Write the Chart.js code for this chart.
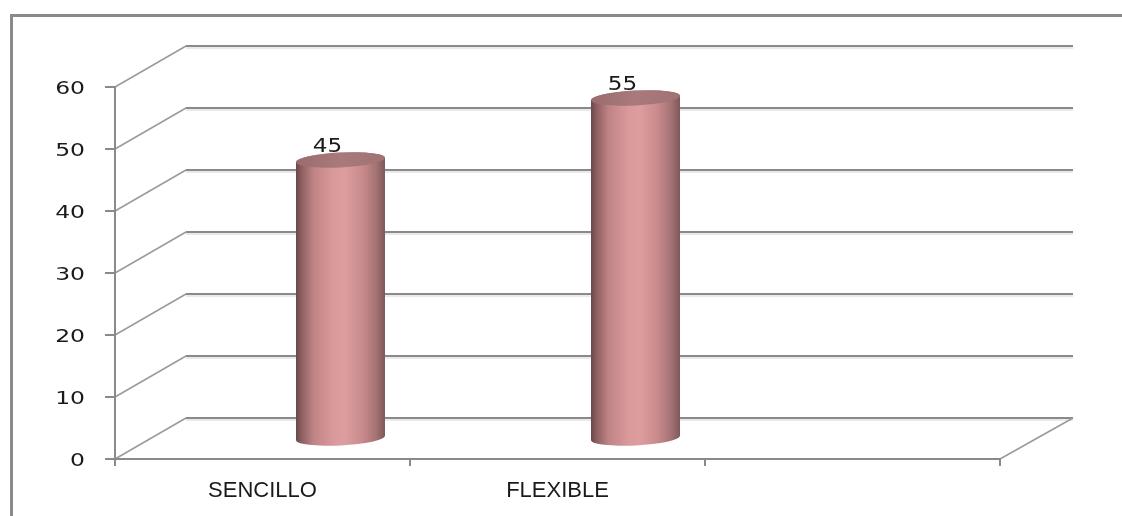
<!DOCTYPE html>
<html>
<head>
<meta charset="utf-8">
<script src="https://cdn.jsdelivr.net/npm/chart.js@4.4.1/dist/chart.umd.min.js"></script>
<style>
  html, body { margin: 0; padding: 0; background: #fff; overflow: hidden; }
  #wrap { width: 1122px; height: 516px; overflow: hidden; }
  canvas { display: block; }
</style>
</head>
<body>
<div id="wrap"><canvas id="chart" width="1122" height="516"></canvas></div>
<script>
const categories = ['SENCILLO', 'FLEXIBLE', ''];
const values = [45, 55, null];
const yMin = 0;
const yMax = 60;
const yStep = 10;

// depth of the back wall and where the cylinders sit between front and back
const DEPTH_X = 71, DEPTH_Y = -41;
const BAR_X = 78, BAR_Y = -20;
const LINE = '#8a8a8a';
const TEXT = '#1a1a1a';

// draw text a little wider than the font, like the old office export
function wideText(ctx, str, x, y, align, sx) {
  ctx.save();
  ctx.translate(x, y);
  ctx.scale(sx, 1);
  ctx.textAlign = align;
  ctx.fillText(str, 0, 0);
  ctx.restore();
}

const backWall = {
  id: 'backWall',
  beforeDraw(chart) {
    const ctx = chart.ctx;
    const {left, right, bottom} = chart.chartArea;
    const y = chart.scales.y;
    ctx.save();
    // outer frame, only the top and left edges are inside the canvas
    ctx.strokeStyle = LINE;
    ctx.lineWidth = 3;
    ctx.beginPath();
    ctx.moveTo(11.5, chart.height + 5);
    ctx.lineTo(11.5, 15.5);
    ctx.lineTo(chart.width + 5, 15.5);
    ctx.stroke();

    const backRight = right + 73;
    y.ticks.forEach(t => {
      const py = y.getPixelForValue(t.value);
      // diagonal from the front axis to the wall
      ctx.strokeStyle = '#9a9a9a';
      ctx.lineWidth = 1.5;
      ctx.beginPath();
      ctx.moveTo(left, py);
      ctx.lineTo(left + DEPTH_X, py + DEPTH_Y);
      ctx.stroke();
      // gridline on the back wall
      ctx.strokeStyle = '#d4d4d4';
      ctx.lineWidth = 1;
      ctx.beginPath();
      ctx.moveTo(left + DEPTH_X, py + DEPTH_Y + 2);
      ctx.lineTo(backRight, py + DEPTH_Y + 2);
      ctx.stroke();
      ctx.strokeStyle = LINE;
      ctx.lineWidth = 2;
      ctx.beginPath();
      ctx.moveTo(left + DEPTH_X, py + DEPTH_Y);
      ctx.lineTo(backRight, py + DEPTH_Y);
      ctx.stroke();
    });
    // right edge of the floor
    ctx.strokeStyle = '#9a9a9a';
    ctx.lineWidth = 1.5;
    ctx.beginPath();
    ctx.moveTo(right, bottom);
    ctx.lineTo(backRight, bottom + DEPTH_Y);
    ctx.stroke();
    ctx.restore();
  },
  afterDraw(chart) {
    // value axis labels
    const ctx = chart.ctx;
    const y = chart.scales.y;
    ctx.save();
    ctx.fillStyle = TEXT;
    ctx.font = '17px "DejaVu Sans"';
    ctx.textBaseline = 'middle';
    y.ticks.forEach(t => {
      wideText(ctx, t.label, chart.chartArea.left - 30, y.getPixelForValue(t.value) + 3, 'right', 1.38);
    });
    ctx.restore();
  }
};

const cylinders = {
  id: 'cylinders',
  afterDatasetsDraw(chart) {
    const ctx = chart.ctx;
    const meta = chart.getDatasetMeta(0);
    const rot = -0.05;
    meta.data.forEach((bar, i) => {
      const v = values[i];
      if (v == null) return;
      const {x, y, base, width} = bar.getProps(['x', 'y', 'base', 'width'], true);
      const cx = x + BAR_X;
      const yt = y + BAR_Y;
      const yb = base + BAR_Y;
      const rx = width / 2;
      const ry = 7.5;

      ctx.save();
      const g = ctx.createLinearGradient(cx - rx, 0, cx + rx, 0);
      g.addColorStop(0, '#6a4647');
      g.addColorStop(0.06, '#8c5e60');
      g.addColorStop(0.2, '#c08486');
      g.addColorStop(0.42, '#da999b');
      g.addColorStop(0.55, '#dd9d9f');
      g.addColorStop(0.75, '#c88a8c');
      g.addColorStop(0.9, '#a47274');
      g.addColorStop(1, '#7e5758');
      ctx.fillStyle = g;
      ctx.beginPath();
      ctx.ellipse(cx, yb, rx, ry, rot, 0, Math.PI);
      ctx.ellipse(cx, yt, rx, ry, rot, Math.PI, 2 * Math.PI);
      ctx.closePath();
      ctx.fill();

      // top cap
      const cg = ctx.createLinearGradient(cx - rx, 0, cx + rx, 0);
      cg.addColorStop(0, '#9a6c6d');
      cg.addColorStop(0.5, '#a97a7b');
      cg.addColorStop(1, '#a17273');
      ctx.fillStyle = cg;
      ctx.beginPath();
      ctx.ellipse(cx, yt, rx, ry, rot, 0, 2 * Math.PI);
      ctx.fill();

      // value label
      ctx.fillStyle = TEXT;
      ctx.font = '19px "DejaVu Sans"';
      ctx.textBaseline = 'alphabetic';
      wideText(ctx, String(v), cx - 13, yt - 8, 'center', 1.22);
      ctx.restore();
    });
  }
};

new Chart(document.getElementById('chart'), {
  type: 'bar',
  data: {
    labels: categories,
    datasets: [{
      data: values,
      backgroundColor: 'rgba(0,0,0,0)',
      borderWidth: 0,
      barPercentage: 0.302,
      categoryPercentage: 1
    }]
  },
  options: {
    responsive: false,
    animation: false,
    events: [],
    layout: { padding: { top: 87, right: 122, bottom: 0, left: 0 } },
    scales: {
      x: {
        grid: {
          display: true,
          drawOnChartArea: false,
          offset: true,
          tickLength: 7,
          color: LINE,
          lineWidth: 2
        },
        border: { color: LINE, width: 2 },
        ticks: {
          color: TEXT,
          font: { family: '"Liberation Sans"', size: 22 },
          padding: 12,
          maxRotation: 0
        },
        afterFit(scale) { scale.height = 57; }
      },
      y: {
        min: yMin,
        max: yMax,
        grid: {
          drawOnChartArea: false,
          tickLength: 10,
          color: LINE,
          lineWidth: 2
        },
        border: { color: LINE, width: 2 },
        ticks: {
          stepSize: yStep,
          // labels are drawn wider by the backWall plugin
          color: 'rgba(0,0,0,0)',
          font: { family: '"DejaVu Sans"', size: 17 },
          padding: 20
        },
        afterFit(scale) { scale.width = 115; }
      }
    },
    plugins: {
      legend: { display: false },
      tooltip: { enabled: false }
    }
  },
  plugins: [backWall, cylinders]
});
</script>
</body>
</html>
